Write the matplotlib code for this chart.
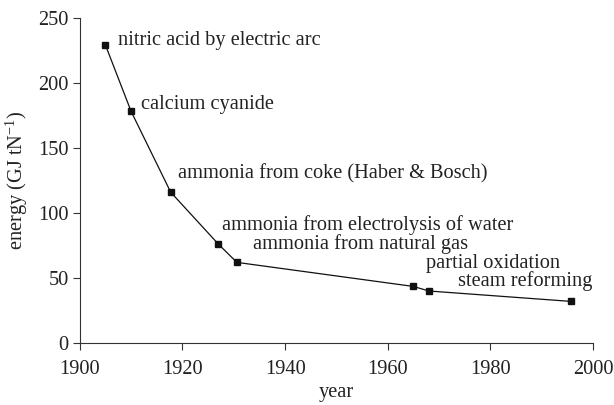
import matplotlib
matplotlib.use("Agg")
import matplotlib.pyplot as plt

# Energy needed to fix nitrogen, by process
years = [1905, 1910, 1917.7, 1927, 1930.6, 1965, 1968, 1995.7]
energy = [229, 178, 116, 76, 62, 43.5, 40, 32]
labels = ["nitric acid by electric arc", "calcium cyanide",
          "ammonia from coke (Haber & Bosch)",
          "ammonia from electrolysis of water", "ammonia from natural gas",
          "partial oxidation", "steam reforming", None]
offsets = [(13, 5), (10, 7), (7, 18), (4, 19), (16, 18), (13, 23), (29, 10), None]

plt.rcParams['font.family'] = ['Liberation Serif', 'DejaVu Serif']
plt.rcParams['mathtext.fontset'] = 'custom'
plt.rcParams['mathtext.rm'] = 'Liberation Serif'
plt.rcParams['mathtext.it'] = 'Liberation Serif:italic'
plt.rcParams['font.size'] = 14.7

fig = plt.figure(figsize=(6.14, 4.05), dpi=100)
ax = fig.add_axes([0.130, 0.153, 0.836, 0.803])
ax.plot(years, energy, color='#111111', lw=0.9, marker='s', ms=4.2)

for x, y, lab, off in zip(years, energy, labels, offsets):
    if lab:
        ax.annotate(lab, (x, y), xytext=off, textcoords='offset pixels',
                    va='center', ha='left', color='#222222')

ax.set_xlim(1900, 2000)
ax.set_ylim(0, 250)
ax.set_xticks(range(1900, 2001, 20))
ax.set_yticks(range(0, 251, 50))
ax.spines['top'].set_visible(False)
ax.spines['right'].set_visible(False)
for s in ['left', 'bottom']:
    ax.spines[s].set_color('#333333')
ax.tick_params(direction='out', length=5, color='#333333', labelcolor='#222222', pad=3)
ax.tick_params(axis='x', pad=7)
ax.set_xlabel('year', color='#222222', labelpad=3)
ax.set_ylabel(r'energy (GJ tN$^{-1}$)', color='#222222', labelpad=6)

fig.savefig('out.png', dpi=100)
